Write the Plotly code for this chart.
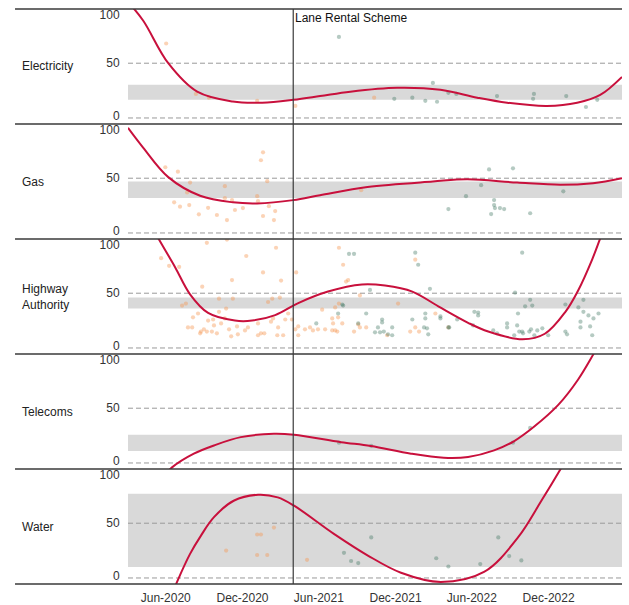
import plotly.graph_objects as go
from plotly.subplots import make_subplots

# ---------------- data ----------------
categories = ["Electricity", "Gas", "Highway<br>Authority", "Telecoms", "Water"]
scheme_date = "2021-04-01"
scheme_label = "Lane Rental Scheme"
x_tick_dates = ["2020-06-01", "2020-12-01", "2021-06-01", "2021-12-01", "2022-06-01", "2022-12-01"]
x_tick_labels = ["Jun-2020", "Dec-2020", "Jun-2021", "Dec-2021", "Jun-2022", "Dec-2022"]
y_tick_labels = ["0", "50", "100"]
x_range = ["2020-03-03", "2023-05-25"]

band_low = [16.6, 32, 36, 11, 10]
band_high = [30.3, 47, 46, 25.7, 77]

# fitted trend curves
elec_curve_dates = ["2020-03-03", "2020-04-08", "2020-06-07", "2020-08-15", "2020-11-08", "2021-01-17",
                    "2021-04-01", "2021-06-04", "2021-08-15", "2021-12-05", "2022-03-18", "2022-06-14",
                    "2022-08-24", "2022-11-27", "2023-02-07", "2023-04-03", "2023-05-25"]
elec_curve_vals = [106, 89, 50, 24, 15, 14, 16.6, 20, 24, 27.5, 25.7, 18.5, 13.9, 11, 13.9, 21, 37.5]

gas_curve_dates = ["2020-03-03", "2020-04-08", "2020-06-07", "2020-08-22", "2020-11-08", "2021-01-05",
                   "2021-04-01", "2021-06-04", "2021-09-25", "2022-02-28", "2022-05-21", "2022-09-17",
                   "2022-12-29", "2023-03-17", "2023-05-25"]
gas_curve_vals = [96, 78, 51, 34, 28, 27, 30, 34.5, 42, 47, 49, 46, 44, 45.5, 50]

hwy_curve_dates = ["2020-04-15", "2020-05-13", "2020-06-23", "2020-07-29", "2020-09-10", "2020-11-13",
                   "2020-12-24", "2021-02-17", "2021-04-13", "2021-06-23", "2021-09-12", "2021-11-06",
                   "2022-01-10", "2022-03-13", "2022-05-23", "2022-07-10", "2022-09-30", "2022-11-22",
                   "2023-01-10", "2023-02-10", "2023-03-15", "2023-04-03", "2023-04-27"]
hwy_curve_vals = [120, 101, 74, 49, 32, 25, 25, 30, 41, 51.5, 58, 57, 51.5, 38, 23, 15, 8, 13,
                  33, 53, 81, 100, 124]

tel_curve_dates = ["2020-06-01", "2020-06-16", "2020-08-07", "2020-09-24", "2020-11-27", "2021-02-14",
                   "2021-04-03", "2021-07-24", "2021-10-03", "2022-01-07", "2022-03-26", "2022-05-23",
                   "2022-07-24", "2022-09-10", "2022-10-27", "2022-12-24", "2023-02-09", "2023-03-18",
                   "2023-04-27"]
tel_curve_vals = [-10, -4, 8.5, 16, 23.6, 26.6, 25.7, 19, 15.5, 8.5, 4.8, 5.5, 11.5, 20, 33,
                  53, 76, 99.4, 127]

wat_curve_dates = ["2020-06-16", "2020-06-28", "2020-07-29", "2020-08-24", "2020-09-24", "2020-11-10",
                   "2021-01-07", "2021-02-23", "2021-04-03", "2021-07-07", "2021-09-26", "2021-12-14",
                   "2022-03-19", "2022-06-30", "2022-09-19", "2022-11-13", "2023-01-07", "2023-02-01"]
wat_curve_vals = [-15, -3.6, 22, 38.7, 55.5, 70.5, 76, 73.6, 66, 40.3, 20.5, 4.8, -3.6, 5.5,
                  37, 70, 105, 122]

# individual observations: orange group and green group
elec_orange_dates = ["2020-06-02", "2020-08-12", "2020-09-12", "2021-01-05", "2021-04-06", "2021-10-11"]
elec_orange_vals = [68, 22, 18.5, 15.7, 11, 18.5]
elec_green_dates = ["2021-07-19", "2021-11-28", "2022-01-10", "2022-02-10", "2022-02-28", "2022-03-10",
                    "2022-04-06", "2022-04-25", "2022-07-31", "2022-10-25", "2022-10-27", "2023-01-12",
                    "2023-02-28", "2023-03-27"]
elec_green_vals = [74, 17.5, 18.5, 15.7, 32, 14.8, 23, 22, 20, 17.5, 22, 20, 10, 16.6]

gas_orange_dates = ["2020-05-31", "2020-06-30", "2020-06-21", "2020-07-05", "2020-07-27", "2020-07-22",
                    "2020-07-29", "2020-08-19", "2020-09-10", "2020-10-01", "2020-10-20", "2020-10-20",
                    "2020-10-25", "2020-11-06", "2020-11-13", "2020-12-02", "2021-01-05", "2021-01-07",
                    "2021-01-14", "2021-01-19", "2021-01-29", "2021-02-02", "2021-01-19", "2021-02-17",
                    "2021-02-14", "2021-09-10"]
gas_orange_vals = [60, 56, 28, 24, 25.5, 37, 46, 17, 23, 16.4, 42.7, 31.8, 11.8, 30, 21, 22.7, 33.6,
                   29, 66.4, 73.6, 47.3, 24.5, 15.5, 20, 11.8, 39]
gas_green_dates = ["2022-04-06", "2022-05-18", "2022-06-23", "2022-07-12", "2022-07-24", "2022-07-24",
                   "2022-07-26", "2022-08-07", "2022-08-17", "2022-07-17", "2022-09-07", "2022-10-18",
                   "2023-01-05"]
gas_green_vals = [21.8, 33.6, 43.6, 58, 30, 25.5, 22.7, 22.7, 21.8, 17.3, 59, 18, 38]

hwy_orange_dates = ["2020-09-07", "2020-10-25", "2020-05-21", "2020-06-09", "2020-07-03", "2020-12-10",
                    "2021-02-19", "2020-11-06", "2021-01-19", "2021-03-03", "2020-08-27", "2021-04-08",
                    "2020-07-10", "2020-07-19", "2020-10-06", "2020-11-08", "2020-10-23", "2021-01-31",
                    "2021-02-10", "2021-02-28", "2020-08-05", "2020-08-17", "2020-09-10", "2020-09-22",
                    "2020-10-06", "2020-10-20", "2020-10-11", "2020-09-24", "2020-07-24", "2020-08-03",
                    "2020-08-31", "2020-08-24", "2020-09-07", "2020-09-19", "2020-10-01", "2020-08-22",
                    "2020-11-04", "2020-11-20", "2020-12-07", "2020-12-14", "2021-01-07", "2021-01-14",
                    "2021-01-22", "2021-01-07", "2021-02-07", "2021-02-12", "2021-02-24", "2021-03-13",
                    "2021-03-20", "2021-03-08", "2021-02-22", "2021-03-29", "2021-04-13", "2020-11-18",
                    "2020-10-30",
                    "2021-07-19", "2021-07-29", "2021-08-10", "2021-08-05", "2022-01-17", "2021-09-07",
                    "2021-12-07", "2021-06-09", "2021-07-10", "2021-07-19", "2021-07-17", "2021-07-03",
                    "2021-07-05", "2021-07-27", "2021-09-03", "2021-09-07", "2021-09-22", "2021-07-10",
                    "2021-07-03", "2021-07-15", "2021-06-16", "2021-04-13", "2021-04-06", "2021-04-29",
                    "2021-05-11", "2021-05-18", "2021-05-30", "2021-08-24", "2021-11-11", "2022-01-05",
                    "2022-01-17", "2022-01-26", "2022-03-06", "2022-04-06"]
hwy_orange_vals = [96, 99, 82, 75, 74, 84, 91.5, 62, 69, 61.5, 56, 69, 38.7, 40.5, 45, 45, 36, 42,
                   45, 46, 28, 31.5, 25, 26, 33, 27, 22.4, 20.6, 18.8, 18.8, 17, 15, 15, 15, 13.4,
                   13.4, 10.6, 12.5, 16, 18.8, 22.4, 13.4, 13.4, 11.6, 24, 27, 18.8, 26, 31.5, 11.6,
                   11.6, 26, 19.7, 19.7, 17,
                   91.5, 76, 62, 60.6, 80.6, 48, 40.5, 35, 37, 40.5, 28, 27, 22.4, 22.4, 21.5, 18.8,
                   18.8, 16, 16, 15, 17, 11.6, 17, 17, 18.8, 16, 17, 15, 11.6, 15, 18.8, 15, 31.5, 18.8]
hwy_green_dates = ["2021-08-12", "2021-08-24", "2022-01-17", "2022-01-24", "2022-02-21", "2021-10-01",
                   "2021-07-27", "2021-07-29", "2021-07-17", "2021-09-22", "2021-09-03", "2021-10-30",
                   "2021-10-30", "2021-10-20", "2021-10-13", "2021-10-25", "2021-11-03", "2021-11-13",
                   "2021-11-23", "2021-11-23", "2022-01-10", "2022-02-10", "2022-02-10", "2022-03-18",
                   "2022-03-18", "2022-02-07", "2022-02-14", "2022-02-17", "2022-04-06", "2022-04-08",
                   "2022-04-27", "2021-05-26",
                   "2022-09-29", "2022-09-12", "2022-10-18", "2022-10-23", "2022-10-06", "2022-06-07",
                   "2022-06-16", "2022-06-16", "2022-09-19", "2022-06-04", "2022-08-24", "2022-08-24",
                   "2022-09-17", "2022-07-22", "2022-07-31", "2022-09-10", "2022-09-22", "2022-09-29",
                   "2022-10-01", "2022-10-16", "2022-10-20", "2022-11-04", "2022-11-16", "2022-10-28",
                   "2022-11-30", "2023-01-10", "2023-02-10", "2023-02-22", "2023-02-22", "2023-02-15",
                   "2023-02-15", "2023-03-06", "2023-03-10", "2023-03-18", "2023-03-30", "2023-01-10",
                   "2023-01-14", "2023-03-15"]
hwy_green_vals = [86, 86, 87, 76, 54, 53, 39.7, 38.7, 31.5, 31.5, 22.4, 26, 23.3, 18.8, 14.3, 14.3,
                  15, 12.5, 18.8, 11.6, 26, 31.5, 27, 28.8, 27, 18.8, 17.9, 12.5, 18.8, 18.8, 26, 22.4,
                  87, 50.5, 44, 38.7, 38, 33, 32.4, 29.7, 31.5, 20.6, 22.4, 18.8, 20.6, 16, 13.4, 11.6,
                  15, 15, 13.4, 15, 17, 16, 17.9, 11.6, 11.6, 39.7, 37, 44, 33, 24, 18.8, 29.7, 19.7,
                  27, 31.5, 15, 12.5, 11.6]

tel_orange_dates = []
tel_orange_vals = []
tel_green_dates = ["2021-07-19", "2021-10-04", "2022-09-07", "2022-10-18"]
tel_green_vals = [18.5, 15.7, 18.5, 32]

wat_orange_dates = ["2020-10-23", "2021-01-05", "2021-01-14", "2021-02-14", "2021-01-05", "2021-01-29",
                    "2021-05-04"]
wat_orange_vals = [25, 39.7, 39.7, 46, 21, 21, 16.6]
wat_green_dates = ["2021-10-04", "2021-07-31", "2021-08-17", "2021-09-03", "2022-03-08", "2022-04-06",
                   "2022-06-21", "2022-08-03", "2022-08-29", "2022-09-27"]
wat_green_vals = [37, 23, 15.5, 13.6, 18, 10.5, 12.7, 37, 20, 16]

curve_dates = [elec_curve_dates, gas_curve_dates, hwy_curve_dates, tel_curve_dates, wat_curve_dates]
curve_vals = [elec_curve_vals, gas_curve_vals, hwy_curve_vals, tel_curve_vals, wat_curve_vals]
orange_dates = [elec_orange_dates, gas_orange_dates, hwy_orange_dates, tel_orange_dates, wat_orange_dates]
orange_vals = [elec_orange_vals, gas_orange_vals, hwy_orange_vals, tel_orange_vals, wat_orange_vals]
green_dates = [elec_green_dates, gas_green_dates, hwy_green_dates, tel_green_dates, wat_green_dates]
green_vals = [elec_green_vals, gas_green_vals, hwy_green_vals, tel_green_vals, wat_green_vals]

# ---------------- styling ----------------
FONT = "Liberation Sans, Arial, sans-serif"
CURVE_COLOR = "#C8103C"
ORANGE = "rgba(246,150,80,0.42)"
GREEN = "rgba(60,115,95,0.38)"
BAND = "#D9D9D9"
GRID = "#9A9A9A"
RULE = "#3A3A3A"

n = len(categories)
fig = make_subplots(rows=n, cols=1, shared_xaxes=True, vertical_spacing=0)

for i in range(n):
    r = i + 1
    fig.add_trace(go.Scatter(x=orange_dates[i], y=orange_vals[i], mode="markers",
                             marker=dict(size=4.2, color=ORANGE, line=dict(width=0)),
                             showlegend=False, hoverinfo="skip"), row=r, col=1)
    fig.add_trace(go.Scatter(x=green_dates[i], y=green_vals[i], mode="markers",
                             marker=dict(size=4.2, color=GREEN, line=dict(width=0)),
                             showlegend=False, hoverinfo="skip"), row=r, col=1)
    fig.add_trace(go.Scatter(x=curve_dates[i], y=curve_vals[i], mode="lines",
                             line=dict(color=CURVE_COLOR, width=2, shape="spline", smoothing=1.0),
                             showlegend=False, hoverinfo="skip"), row=r, col=1)

    xref = "x" if r == 1 else f"x{r}"
    yref = "y" if r == 1 else f"y{r}"
    fig.add_shape(type="rect", xref=f"{xref} domain", yref=yref, x0=0, x1=1,
                  y0=band_low[i], y1=band_high[i], fillcolor=BAND, line=dict(width=0),
                  layer="below")
    for gv in (0, 50):
        fig.add_shape(type="line", xref=f"{xref} domain", yref=yref, x0=0, x1=1, y0=gv, y1=gv,
                      line=dict(color=GRID, width=1, dash="5px,3px"), layer="below")

    fig.update_yaxes(row=r, col=1, range=[-5.5, 99.5], tickmode="array",
                     tickvals=[2, 50, 94.3], ticktext=y_tick_labels,
                     ticks="outside", ticklen=5, tickcolor="rgba(0,0,0,0)",
                     tickfont=dict(family=FONT, size=12, color="#333333"),
                     showgrid=False, zeroline=False, showline=False, fixedrange=True)
    fig.update_xaxes(row=r, col=1, range=x_range, type="date", tickmode="array",
                     tickvals=x_tick_dates, ticktext=x_tick_labels,
                     ticks="outside", ticklen=3, tickcolor="rgba(0,0,0,0)",
                     tickfont=dict(family=FONT, size=12, color="#333333"),
                     showgrid=False, zeroline=False, showline=False,
                     showticklabels=(r == n))

    # row label
    fig.add_annotation(xref="paper", yref="paper", x=-0.2186, y=1 - (i + 0.5) / n,
                       xanchor="left", yanchor="middle", align="left", showarrow=False,
                       text=categories[i], font=dict(family=FONT, size=12, color="#222222"))

# horizontal separators spanning into the label column
for k in range(n + 1):
    yv = k / n
    fig.add_shape(type="line", xref="paper", yref="paper", x0=-0.2287, x1=1, y0=yv, y1=yv,
                  line=dict(color=RULE, width=1.6), layer="above")

# scheme marker
fig.add_shape(type="line", xref="x", yref="paper", x0=scheme_date, x1=scheme_date, y0=0, y1=1,
              line=dict(color=RULE, width=1.2), layer="above")
fig.add_annotation(xref="x", yref="paper", x=scheme_date, y=1, xanchor="left", yanchor="top",
                   showarrow=False, text=scheme_label, xshift=0, yshift=0,
                   font=dict(family=FONT, size=12, color="#111111"))

fig.update_layout(width=629, height=605, template="none",
                  margin=dict(l=128, r=7, t=9, b=21, autoexpand=False),
                  paper_bgcolor="white", plot_bgcolor="white", showlegend=False)

fig.write_html("out.html", config={"displayModeBar": False, "staticPlot": True},
               post_script="document.body.style.margin='0px';document.body.style.overflow='hidden';")
